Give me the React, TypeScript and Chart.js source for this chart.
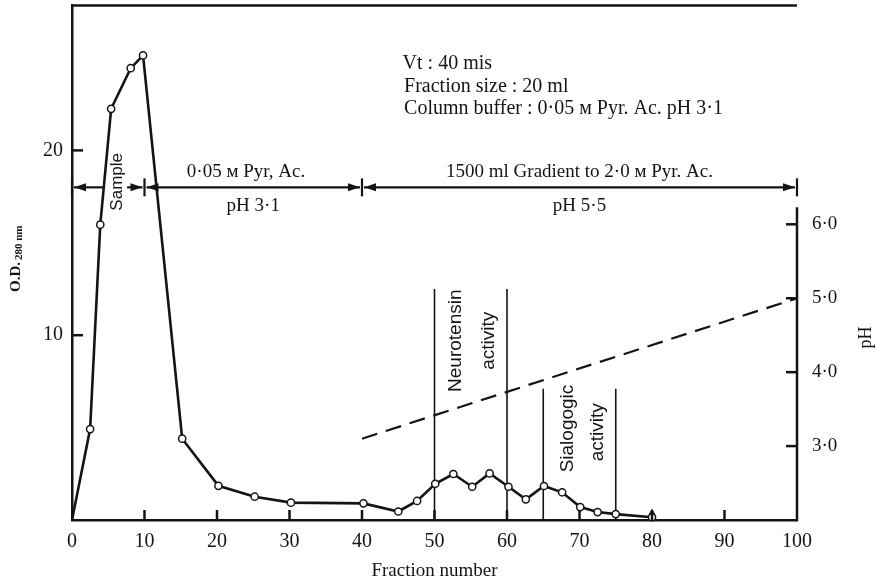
import React, { useEffect, useRef } from "react";
import { Chart, registerables } from "chart.js";

Chart.register(...registerables);

// ---- data ----
const fractions = [0, 2.5, 3.9, 5.4, 8.1, 9.8, 15.2, 20.2, 25.2, 30.2, 40.2, 45, 47.6, 50.1, 52.6, 55.2, 57.6, 60.2, 62.6, 65.1, 67.6, 70.1, 72.5, 75, 80];
const odValues = [0, 4.92, 15.98, 22.25, 24.45, 25.14, 4.4, 1.85, 1.26, 0.94, 0.9, 0.46, 1.03, 1.96, 2.49, 1.8, 2.52, 1.8, 1.12, 1.84, 1.5, 0.7, 0.43, 0.32, 0.15];
const phFractions = [40, 100];
const phValues = [3.1, 5.0];
const activityFractions = [50, 60, 65, 75];
const activityTops = [12.5, 12.5, 7.1, 7.1];
const bufferStops = [0, 10, 40, 100];
const arrowLevel = 18;
const odTicks = [10, 20];
const phTicks = [3, 4, 5, 6];
const xTickMarks = [10, 20, 30, 40, 50, 60, 70, 80, 90];
const phAxisTop = 6.23;
const triangleFraction = [80];
const triangleValue = [0.38];

const INK = "#141414";
const SERIF = "'Liberation Serif', 'Times New Roman', serif";
const SANS = "'Liberation Sans', Arial, sans-serif";

const annotations = {
  id: "annotations",
  beforeDraw(chart: any) {
    const { ctx, width, height } = chart;
    ctx.save();
    ctx.fillStyle = "#ffffff";
    ctx.fillRect(0, 0, width, height);
    ctx.restore();
  },
  afterDatasetsDraw(chart: any) {
    const { ctx, chartArea, scales } = chart;
    const xs = scales.x;
    const ys = scales.y;
    const ps = scales.ph;
    const px = (v: number) => xs.getPixelForValue(v);
    const py = (v: number) => ys.getPixelForValue(v);
    const line = (x1: number, y1: number, x2: number, y2: number) => {
      ctx.beginPath();
      ctx.moveTo(x1, y1);
      ctx.lineTo(x2, y2);
      ctx.stroke();
    };
    ctx.save();
    ctx.strokeStyle = INK;
    ctx.fillStyle = INK;
    ctx.lineCap = "butt";

    // frame top and right pH axis
    ctx.lineWidth = 2.5;
    line(chartArea.left - 1, chartArea.top, chartArea.right, chartArea.top);
    line(chartArea.right, ps.getPixelForValue(phAxisTop), chartArea.right, chartArea.bottom + 1);

    // inward tick marks
    ctx.lineWidth = 2.5;
    xTickMarks.forEach((v) => line(px(v), chartArea.bottom, px(v), chartArea.bottom - 10));
    odTicks.forEach((v) => line(chartArea.left, py(v), chartArea.left + 11, py(v)));
    phTicks.forEach((v) => line(chartArea.right, ps.getPixelForValue(v), chartArea.right - 11, ps.getPixelForValue(v)));

    // buffer arrows
    const ay = py(arrowLevel);
    ctx.lineWidth = 2.2;
    bufferStops.forEach((v) => line(px(v), ay - 9, px(v), ay + 9));
    const head = (x: number, dir: number) => {
      ctx.beginPath();
      ctx.moveTo(x, ay);
      ctx.lineTo(x + dir * 12, ay - 4);
      ctx.lineTo(x + dir * 12, ay + 4);
      ctx.closePath();
      ctx.fill();
    };
    for (let i = 0; i < bufferStops.length - 1; i++) {
      const a = px(bufferStops[i]) + 2;
      const b = px(bufferStops[i + 1]) - 2;
      if (i === 0) {
        line(a, ay, px(4.4), ay);
        line(px(7.6), ay, b, ay);
      } else {
        line(a, ay, b, ay);
      }
      head(a, 1);
      head(b, -1);
    }

    // texts
    ctx.textAlign = "center";
    ctx.textBaseline = "middle";
    ctx.font = `19px ${SERIF}`;
    ctx.fillText("0·05 м Pyr, Ac.", px(24), ay - 15);
    ctx.fillText("pH 3·1", px(25), ay + 19);
    ctx.fillText("1500 ml Gradient to 2·0 м Pyr. Ac.", px(70), ay - 15);
    ctx.fillText("pH 5·5", px(70), ay + 19);

    ctx.textAlign = "left";
    ctx.font = `20px ${SERIF}`;
    ctx.fillText("Vt : 40 mis", px(45.6), 64);
    ctx.fillText("Fraction size : 20 ml", px(45.8), 87);
    ctx.fillText("Column buffer : 0·05 м Pyr. Ac. pH 3·1", px(45.8), 109);

    // axis titles
    ctx.textAlign = "center";
    ctx.font = `19px ${SERIF}`;
    ctx.fillText("Fraction number", (chartArea.left + chartArea.right) / 2, 571);

    const vtext = (t: string, x: number, y: number, font: string) => {
      ctx.save();
      ctx.translate(x, y);
      ctx.rotate(-Math.PI / 2);
      ctx.font = font;
      ctx.textAlign = "center";
      ctx.textBaseline = "middle";
      ctx.fillText(t, 0, 0);
      ctx.restore();
    };
    vtext("pH", 866, ps.getPixelForValue(4.47), `18px ${SERIF}`);

    // O.D. 280 nm label
    ctx.save();
    ctx.translate(16, (chartArea.top + chartArea.bottom) / 2 - 4);
    ctx.rotate(-Math.PI / 2);
    ctx.textBaseline = "middle";
    ctx.font = `bold 15px ${SERIF}`;
    const w1 = ctx.measureText("O.D.").width;
    ctx.font = `bold 11px ${SERIF}`;
    const w2 = ctx.measureText("280 nm").width;
    const start = -(w1 + w2 + 2) / 2;
    ctx.textAlign = "left";
    ctx.font = `bold 15px ${SERIF}`;
    ctx.fillText("O.D.", start, 0);
    ctx.font = `bold 11px ${SERIF}`;
    ctx.fillText("280 nm", start + w1 + 2, 3);
    ctx.restore();

    // rotated annotation labels
    vtext("Sample", px(6.3), py(18.3), `17px ${SANS}`);
    vtext("Neurotensin", px(52.9), py(9.7), `19px ${SANS}`);
    vtext("activity", px(57.5), py(9.7), `19px ${SANS}`);
    vtext("Sialogogic", px(68.4), py(4.95), `19px ${SANS}`);
    vtext("activity", px(72.5), py(4.75), `19px ${SANS}`);

    ctx.restore();
  },
};

const noPad = (s: any) => {
  s.paddingTop = 0;
  s.paddingBottom = 0;
  s.paddingLeft = 0;
  s.paddingRight = 0;
};

export default function App() {
  const ref = useRef<HTMLCanvasElement | null>(null);

  useEffect(() => {
    if (!ref.current) return;
    const odData = fractions.map((f, i) => ({ x: f, y: odValues[i] }));
    const phData = phFractions.map((f, i) => ({ x: f, y: phValues[i] }));
    const activitySets = activityFractions.map((f, i) => ({
      data: [
        { x: f, y: 0 },
        { x: f, y: activityTops[i] },
      ],
      borderColor: INK,
      borderWidth: 1.6,
      pointRadius: 0,
      yAxisID: "y",
      order: 3,
    }));

    const chart = new Chart(ref.current, {
      type: "line",
      data: {
        datasets: [
          {
            data: odData,
            borderColor: INK,
            borderWidth: 2.6,
            pointRadius: fractions.map((f) => (f === 0 ? 0 : 3.6)),
            pointBackgroundColor: "#ffffff",
            pointBorderColor: INK,
            pointBorderWidth: 1.5,
            yAxisID: "y",
            order: 0,
            clip: false as any,
          },
          {
            data: triangleFraction.map((f, i) => ({ x: f, y: triangleValue[i] })),
            showLine: false,
            pointStyle: "triangle",
            pointRadius: 3.5,
            pointBackgroundColor: INK,
            pointBorderColor: INK,
            yAxisID: "y",
            order: 1,
          },
          {
            data: phData,
            borderColor: INK,
            borderWidth: 2.2,
            borderDash: [16, 9],
            pointRadius: 0,
            yAxisID: "ph",
            order: 2,
          },
          ...activitySets,
        ] as any,
      },
      options: {
        animation: false,
        responsive: false,
        devicePixelRatio: 1,
        parsing: false as any,
        layout: { padding: { top: 5, left: 0, right: 0, bottom: 0 } },
        plugins: {
          legend: { display: false },
          tooltip: { enabled: false },
          title: { display: false },
        },
        scales: {
          x: {
            type: "linear",
            position: "bottom",
            min: 0,
            max: 100,
            ticks: { stepSize: 10, color: INK, font: { family: SERIF, size: 20 }, padding: 10, maxRotation: 0 },
            grid: { drawOnChartArea: false, drawTicks: false },
            border: { color: INK, width: 2.5 },
            afterFit: (s: any) => {
              s.height = 65;
              noPad(s);
            },
          },
          y: {
            type: "linear",
            position: "left",
            min: 0,
            max: 27.84,
            afterBuildTicks: (s: any) => {
              s.ticks = odTicks.map((v) => ({ value: v }));
            },
            ticks: { color: INK, font: { family: SERIF, size: 20 }, padding: 9 },
            grid: { drawOnChartArea: false, drawTicks: false },
            border: { color: INK, width: 2.5 },
            afterFit: (s: any) => {
              s.width = 72;
              noPad(s);
            },
          },
          ph: {
            type: "linear",
            position: "right",
            min: 2,
            max: 8.96,
            afterBuildTicks: (s: any) => {
              s.ticks = phTicks.map((v) => ({ value: v }));
            },
            ticks: {
              color: INK,
              font: { family: SERIF, size: 19 },
              padding: 15,
              callback: (v: any) => Number(v).toFixed(1).replace(".", "·"),
            },
            grid: { drawOnChartArea: false, drawTicks: false },
            border: { display: false },
            afterFit: (s: any) => {
              s.width = 80;
              noPad(s);
            },
          },
        },
      } as any,
      plugins: [annotations],
    });
    return () => chart.destroy();
  }, []);

  return (
    <div style={{ position: "absolute", left: 0, top: 0, width: 877, height: 585, background: "#fff" }}>
      <canvas ref={ref} width={877} height={585} style={{ display: "block", width: 877, height: 585 }} />
    </div>
  );
}
